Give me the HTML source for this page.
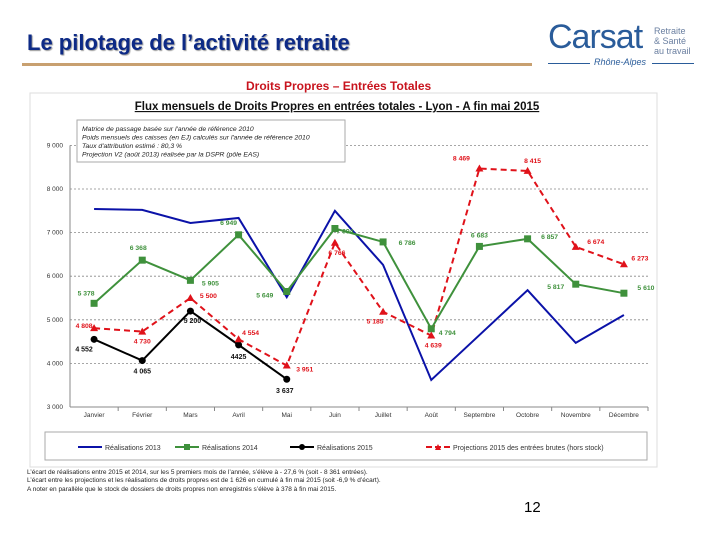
<!DOCTYPE html>
<html><head><meta charset="utf-8"><style>
body{margin:0;width:720px;height:540px;background:#fff;overflow:hidden;font-family:"Liberation Sans",sans-serif;position:relative}
.abs{position:absolute}
</style></head><body>
<div class="abs" style="left:27px;top:30px;font-size:22px;font-weight:bold;color:#0d2a86;text-shadow:1px 1px 1px #999">Le pilotage de l’activité retraite</div>
<div class="abs" style="left:22px;top:63px;width:510px;height:3px;background:#c8a070"></div>
<div class="abs" style="left:548px;top:18px;width:150px;height:52px">
 <div class="abs" style="left:0;top:0;font-size:34px;color:#2a5c9a;letter-spacing:-1px">Carsat</div>
 <div class="abs" style="left:106px;top:8px;font-size:9px;line-height:10px;color:#6a7fa0">Retraite<br>&amp; Santé<br>au travail</div>
 <div class="abs" style="left:0;top:45px;width:42px;border-top:1px solid #2a5c9a"></div>
 <div class="abs" style="left:46px;top:39px;font-size:9px;font-style:italic;color:#2a5c9a">Rhône-Alpes</div>
 <div class="abs" style="left:104px;top:45px;width:42px;border-top:1px solid #2a5c9a"></div>
</div>
<div class="abs" style="left:246px;top:79px;font-size:12px;font-weight:bold;color:#c8141e">Droits Propres – Entrées Totales</div>
<svg class="abs" style="left:0;top:0" width="720" height="540" id="chart"></svg>
<div class="abs" style="left:27px;top:469px;font-size:6.5px;line-height:8.3px;color:#222">L’écart de réalisations entre 2015 et 2014, sur les 5 premiers mois de l’année, s’élève à - 27,6 % (soit - 8 361 entrées).<br>L’écart entre les projections et les réalisations de droits propres est de 1 626 en cumulé à fin mai 2015 (soit -6,9 % d’écart).<br>A noter en parallèle que le stock de dossiers de droits propres non enregistrés s’élève à 378 à fin mai 2015.</div>
<div class="abs" style="left:524px;top:499px;font-size:15px;color:#000">12</div>
<script>
const months=["Janvier","Février","Mars","Avril","Mai","Juin","Juillet","Août","Septembre","Octobre","Novembre","Décembre"];
const yTicks=[3000,4000,5000,6000,7000,8000,9000];
const yTickLabels=["3 000","4 000","5 000","6 000","7 000","8 000","9 000"];
const real2013=[7541,7520,7220,7335,5520,7500,6260,3620,4650,5680,4470,5110];
const real2014=[5378,6368,5905,6949,5649,7094,6786,4794,6683,6857,5817,5610];
const real2014Labels=["5 378","6 368","5 905","6 949","5 649","7 094","6 786","4 794","6 683","6 857","5 817","5 610"];
const real2015=[4552,4065,5200,4425,3637];
const real2015Labels=["4 552","4 065","5 200","4425","3 637"];
const proj2015=[4808,4730,5500,4554,3951,6766,5185,4639,8469,8415,6674,6273];
const proj2015Labels=["4 808","4 730","5 500","4 554","3 951","6 766","5 185","4 639","8 469","8 415","6 674","6 273"];

const svg=document.getElementById('chart');const NS="http://www.w3.org/2000/svg";
function el(t,a,p){const e=document.createElementNS(NS,t);for(const k in a)e.setAttribute(k,a[k]);(p||svg).appendChild(e);return e;}
const X0=70,X1=648,Y3=407,PX=43.6;
const xs=i=>X0+(X1-X0)/12*(i+0.5);
const ys=v=>Y3-(v-3000)/1000*PX;

let r=el('rect',{x:30,y:93,width:627,height:374,fill:'#fff',stroke:'#ddd'});

let t=el('text',{x:337,y:110,'text-anchor':'middle','font-size':11.5,'font-weight':'bold','text-decoration':'underline',fill:'#111'});
t.textContent="Flux mensuels de Droits Propres en entrées totales - Lyon - A fin mai 2015";

// gridlines
yTicks.forEach((v,i)=>{
 if(i>0){let g=el('line',{x1:X0,x2:X1,y1:ys(v),y2:ys(v),stroke:'#888','stroke-dasharray':'2,2','stroke-width':0.8});
 }
 let l=el('text',{x:X0-7,y:ys(v)+2,'text-anchor':'end','font-size':6.5,fill:'#333'});l.textContent=yTickLabels[i];
 
});
let ax=el('line',{x1:X0,x2:X0,y1:ys(9000),y2:Y3,stroke:'#888'});
let bx=el('line',{x1:X0,x2:X1,y1:Y3,y2:Y3,stroke:'#888'});
months.forEach((m,i)=>{
 el('line',{x1:X0+(X1-X0)/12*(i+1),x2:X0+(X1-X0)/12*(i+1),y1:Y3,y2:Y3+4,stroke:'#888'});
 let l=el('text',{x:xs(i),y:Y3+10,'text-anchor':'middle','font-size':6.5,fill:'#333'});l.textContent=m;
 
});
// annotation box
let ab=el('rect',{x:77,y:120,width:268,height:42,fill:'#fff',stroke:'#aaa'});
["Matrice de passage basée sur l'année de référence 2010","Poids mensuels des caisses (en EJ) calculés sur l'année de référence 2010","Taux d'attribution estimé : 80,3 %","Projection V2 (août 2013) réalisée par la DSPR (pôle EAS)"].forEach((s,i)=>{
 let a=el('text',{x:82,y:131+i*8.5,'font-size':6.8,'font-style':'italic',fill:'#222'});a.textContent=s;
 
});
function line(vals,color,dash,w,name){
 let p=el('polyline',{points:vals.map((v,i)=>xs(i)+','+ys(v)).join(' '),fill:'none',stroke:color,'stroke-width':w,'stroke-dasharray':dash||'none'});
 
}
line(real2013,'#0b12a8',null,2,'series-2013-line');
line(proj2015,'#e0121a','6,4',2,'series-proj-2015-line');
line(real2014,'#3f913c',null,2,'series-2014-line');
line(real2015,'#000',null,2,'series-2015-line');
real2014.forEach((v,i)=>{let m=el('rect',{x:xs(i)-3.5,y:ys(v)-3.5,width:7,height:7,fill:'#3f913c'});});
real2015.forEach((v,i)=>{let m=el('circle',{cx:xs(i),cy:ys(v),r:3.5,fill:'#000'});});
proj2015.forEach((v,i)=>{let m=el('polygon',{points:`${xs(i)-4},${ys(v)+3} ${xs(i)+4},${ys(v)+3} ${xs(i)},${ys(v)-4}`,fill:'#e0121a'});});
// labels
const off14=[[-8,-8],[-4,-10],[20,5],[-10,-10],[-22,6],[10,5],[24,3],[16,6],[0,-9],[22,0],[-20,5],[22,-3]];
real2014.forEach((v,i)=>{let l=el('text',{x:xs(i)+off14[i][0],y:ys(v)+off14[i][1],'text-anchor':'middle','font-size':6.8,'font-weight':'bold',fill:'#3f913c'});l.textContent=real2014Labels[i];});
const off15=[[-10,12],[0,13],[2,12],[0,14],[-2,14]];
real2015.forEach((v,i)=>{let l=el('text',{x:xs(i)+off15[i][0],y:ys(v)+off15[i][1],'text-anchor':'middle','font-size':7,'font-weight':'bold',fill:'#111'});l.textContent=real2015Labels[i];});
const offP=[[-10,0],[0,12],[18,0],[12,-4],[18,6],[2,12],[-8,12],[2,12],[-18,-8],[5,-8],[20,-3],[16,-4]];
proj2015.forEach((v,i)=>{let l=el('text',{x:xs(i)+offP[i][0],y:ys(v)+offP[i][1],'text-anchor':'middle','font-size':6.8,'font-weight':'bold',fill:'#e0121a'});l.textContent=proj2015Labels[i];});
// legend
let lb=el('rect',{x:45,y:432,width:602,height:28,fill:'#fff',stroke:'#aaa'});
[["Réalisations 2013",'#0b12a8',null,78],["Réalisations 2014",'#3f913c','sq',175],["Réalisations 2015",'#000','ci',290],["Projections 2015 des entrées brutes (hors stock)",'#e0121a','tr',426]].forEach(e=>{
 const g=el('g',{});
 el('line',{x1:e[3],x2:e[3]+24,y1:447,y2:447,stroke:e[1],'stroke-width':2,'stroke-dasharray':e[2]=='tr'?'6,3':'none'},g);
 if(e[2]=='sq')el('rect',{x:e[3]+9,y:444,width:6,height:6,fill:e[1]},g);
 if(e[2]=='ci')el('circle',{cx:e[3]+12,cy:447,r:3,fill:e[1]},g);
 if(e[2]=='tr')el('polygon',{points:`${e[3]+9},450 ${e[3]+15},450 ${e[3]+12},444`,fill:e[1]},g);
 let l=el('text',{x:e[3]+27,y:450,'font-size':7,fill:'#333'},g);l.textContent=e[0];
});
</script>
</body></html>
